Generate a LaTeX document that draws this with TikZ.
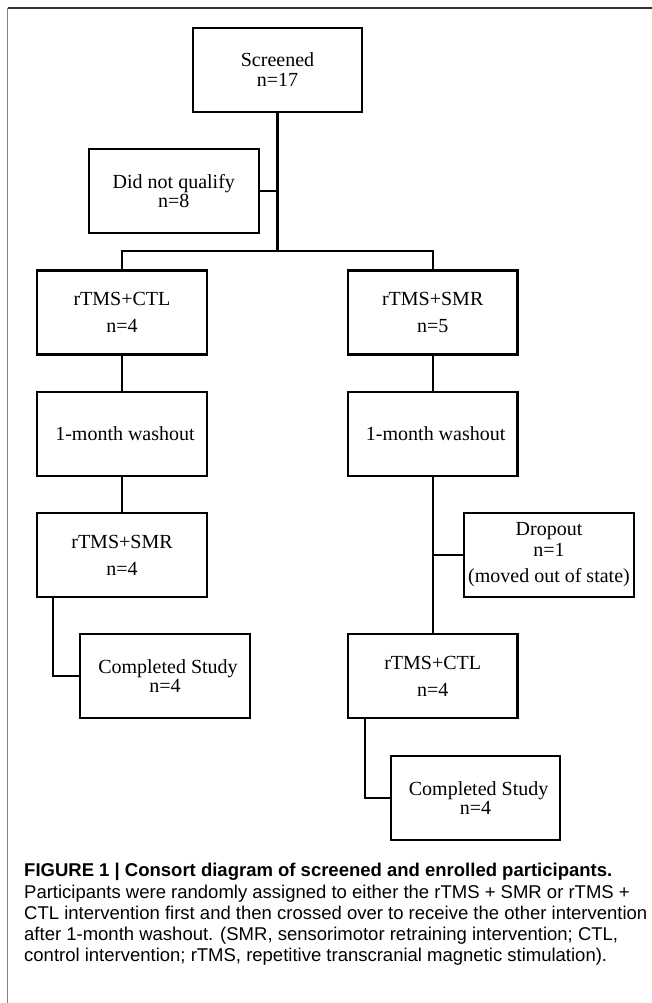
\documentclass[tikz,border=0pt]{standalone}
\usepackage{fontspec}
\setmainfont{Liberation Serif}
\setsansfont{Liberation Sans}
\usepackage{tikz}
\usetikzlibrary{calc}
\tikzset{
	stagebox/.style={draw, line width=2.1pt, minimum width=169.5pt, minimum height=84pt, inner sep=2pt, align=center, font=\fontsize{20}{19.5}\selectfont},
	link/.style={line width=2.1pt},
	captext/.style={anchor=base west, inner sep=0pt, font=\sffamily\fontsize{18.5}{20}\selectfont}
}

\begin{document}
\begin{tikzpicture}[x=1pt, y=-1pt]
		%%%%% START %%%%%
		\useasboundingbox (0, 0) rectangle (652, 1003);
		
		\draw[line width=2pt, color=black!80] (7.5, 8) -- (652, 8);
		\draw[line width=1.6pt, color=black!50] (7.5, 8) -- (7.5, 1003);
		
		\node[stagebox] (scr) at (277.5, 69.7) {Screened\\n=17};
		\node[stagebox] (dnq) at (173.8, 191.2) {Did not qualify\\n=8};
		\coordinate (split) at (277.5, 251);
		
		\node[stagebox] (ctlA) at (122, 312.5) {rTMS+CTL\\[7.5pt]n=4};
		\node[stagebox] (smrA) at (432.7, 312.5) {rTMS+SMR\\[7.5pt]n=5};
		
		\node[stagebox] (washL) at (122, 433.7) {\hspace*{6pt}1-month washout};
		\node[stagebox] (washR) at (432.7, 433.7) {\hspace*{6pt}1-month washout};
		
		\node[stagebox] (smrB) at (122, 555) {rTMS+SMR\\[7.5pt]n=4};
		\node[stagebox] (drop) at (549, 555) {Dropout\\[1.5pt]n=1\\[6.5pt](moved out of state)};
		
		\node[stagebox] (compL) at (165, 676.3) {\hspace*{6pt}Completed Study\\n=4};
		\node[stagebox] (ctlB) at (432.7, 676.3) {rTMS+CTL\\[7.5pt]n=4};
		
		\node[stagebox] (compR) at (475.6, 798) {\hspace*{6pt}Completed Study\\n=4};
		
		\draw[link] (scr.south) -- (split);
		\draw[link] (dnq.east) -- (dnq.east -| split);
		\draw[link] (ctlA.north) |- (split) -| (smrA.north);
		
		\draw[link] (ctlA.south) -- (washL.north);
		\draw[link] (washL.south) -- (smrB.north);
		\draw[link] ([xshift=17pt]smrB.south west) |- (compL.west);
		
		\draw[link] (smrA.south) -- (washR.north);
		\draw[link] (washR.south) -- (ctlB.north);
		\draw[link] (drop.west) -- (drop.west -| ctlB.north);
		\draw[link] ([xshift=18pt]ctlB.south west) |- (compR.west);
		
		\node[captext] (cap1) at (24, 876) {\bfseries FIGURE 1 | Consort diagram of screened and enrolled participants.};
		\node[captext] (cap2) at (24, 898) {Participants were randomly assigned to either the rTMS + SMR or rTMS +};
		\node[captext] (cap3) at (24, 919) {CTL intervention first and then crossed over to receive the other intervention};
		\node[captext] (cap4) at (24, 940) {after 1-month washout. (SMR, sensorimotor retraining intervention; CTL,};
		\node[captext] (cap5) at (24, 961) {control intervention; rTMS, repetitive transcranial magnetic stimulation).};
		
		%%%%% END %%%%%
\end{tikzpicture}
\end{document}
